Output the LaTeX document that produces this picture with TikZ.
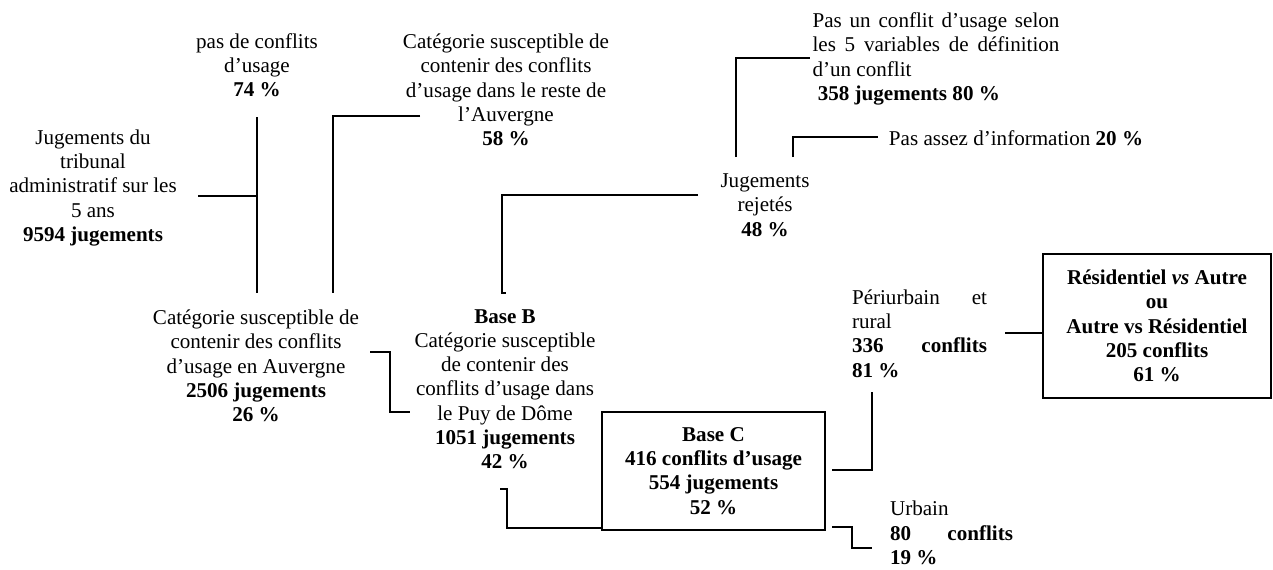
\documentclass[tikz,border=0pt]{standalone}
\usepackage{fontspec}
\setmainfont{Liberation Serif}
\newcommand{\chiffre}[1]{\textbf{#1}} % Effectifs et pourcentages.
\newcommand{\etale}[2]{\makebox[#1][s]{#2}}

\begin{document}
\begin{tikzpicture}[x=0.02cm,y=-0.02cm,line width=1.1pt,
                    every node/.style={font=\fontsize{12}{13.8}\selectfont,inner sep=0pt,align=center},
                    boite/.style={draw,line width=1.5pt}]
\useasboundingbox (0,0) rectangle (1273,569);

\node (tribunal) at (93,188) {Jugements du\\tribunal\\administratif sur les\\5 ans\\\chiffre{9594 jugements}};
\node (pasconf) at (257,65) {pas de conflits\\d’usage\\\chiffre{74 \%}};
\node (reste) at (506,90) {Catégorie susceptible de\\contenir des conflits\\d’usage dans le reste de\\l’Auvergne\\\chiffre{58 \%}};
\node (auvergne) at (256,366) {Catégorie susceptible de\\contenir des conflits\\d’usage en Auvergne\\\chiffre{2506 jugements}\\\chiffre{26 \%}};
\node (baseB) at (505,389) {\textbf{Base B}\\Catégorie susceptible\\de contenir des\\conflits d’usage dans\\le Puy de Dôme\\\chiffre{1051 jugements}\\\chiffre{42 \%}};
\node (rejetes) at (765,205) {Jugements\\rejetés\\\chiffre{48 \%}};
\node (pasun) at (936,59) [align=left] {\etale{4.94cm}{Pas un conflit d’usage selon}\\\etale{4.94cm}{les 5 variables de définition}\\d’un conflit\\\ \chiffre{358 jugements 80 \%}};
\node (info) at (888,138) [anchor=west] {Pas assez d’information \chiffre{20 \%}};
\node (baseC) at (713.5,471) [boite,minimum width=4.46cm,minimum height=2.36cm]
  {\textbf{Base C}\\\textbf{416 conflits d’usage}\\\textbf{554 jugements}\\\textbf{52 \%}};
\node (periurb) at (919.5,333.5) [align=left] {\etale{2.7cm}{Périurbain et}\\rural\\\etale{2.7cm}{\textbf{336 conflits}}\\\chiffre{81 \%}};
\node (resid) at (1157,326) [boite,minimum width=4.56cm,minimum height=2.88cm]
  {\textbf{Résidentiel \textit{vs} Autre}\\\textbf{ou}\\\textbf{Autre vs Résidentiel}\\\textbf{205 conflits}\\\textbf{61 \%}};
\node (urbain) at (951.5,533) [align=left] {Urbain\\\etale{2.46cm}{\textbf{80 conflits}}\\\chiffre{19 \%}};

\coordinate (tribA) at (198,196);
\coordinate (fourche) at (257,196);
\coordinate (hautA) at (257,117);
\coordinate (basA) at (257,293);
\coordinate (resteA) at (420,116);
\coordinate (resteB) at (333,116);
\coordinate (basB) at (333,293);
\coordinate (auvA) at (370,352);
\coordinate (auvB) at (390,412);
\coordinate (auvC) at (410,412);
\coordinate (rejA) at (698,195);
\coordinate (rejB) at (502,195);
\coordinate (rejC) at (502,293);
\coordinate (rejD) at (506,293);
\coordinate (pasA) at (736,157);
\coordinate (pasB) at (736,58);
\coordinate (pasC) at (810,58);
\coordinate (infoA) at (793,157);
\coordinate (infoB) at (793,137);
\coordinate (infoC) at (878,137);
\coordinate (bbA) at (500,489);
\coordinate (bbB) at (507,528);
\coordinate (periA) at (832,470);
\coordinate (periB) at (872,392);
\coordinate (urbA) at (832,527);
\coordinate (urbB) at (852,548);
\coordinate (urbC) at (872,548);
\coordinate (resA) at (1005,333);

\draw (tribA) -- (fourche);
\draw (hautA) -- (basA);
\draw (resteA) -- (resteB) -- (basB);
\draw (auvA) -| (auvB) -- (auvC);
\draw (rejA) -- (rejB) -- (rejC) -- (rejD);
\draw (pasA) -- (pasB) -- (pasC);
\draw (infoA) -- (infoB) -- (infoC);
\draw (bbA) -| (bbB) -- (bbB -| baseC.west);
\draw (periA) -| (periB);
\draw (urbA) -| (urbB) -- (urbC);
\draw (resA) -- (resA -| resid.west);
\end{tikzpicture}
\end{document}
